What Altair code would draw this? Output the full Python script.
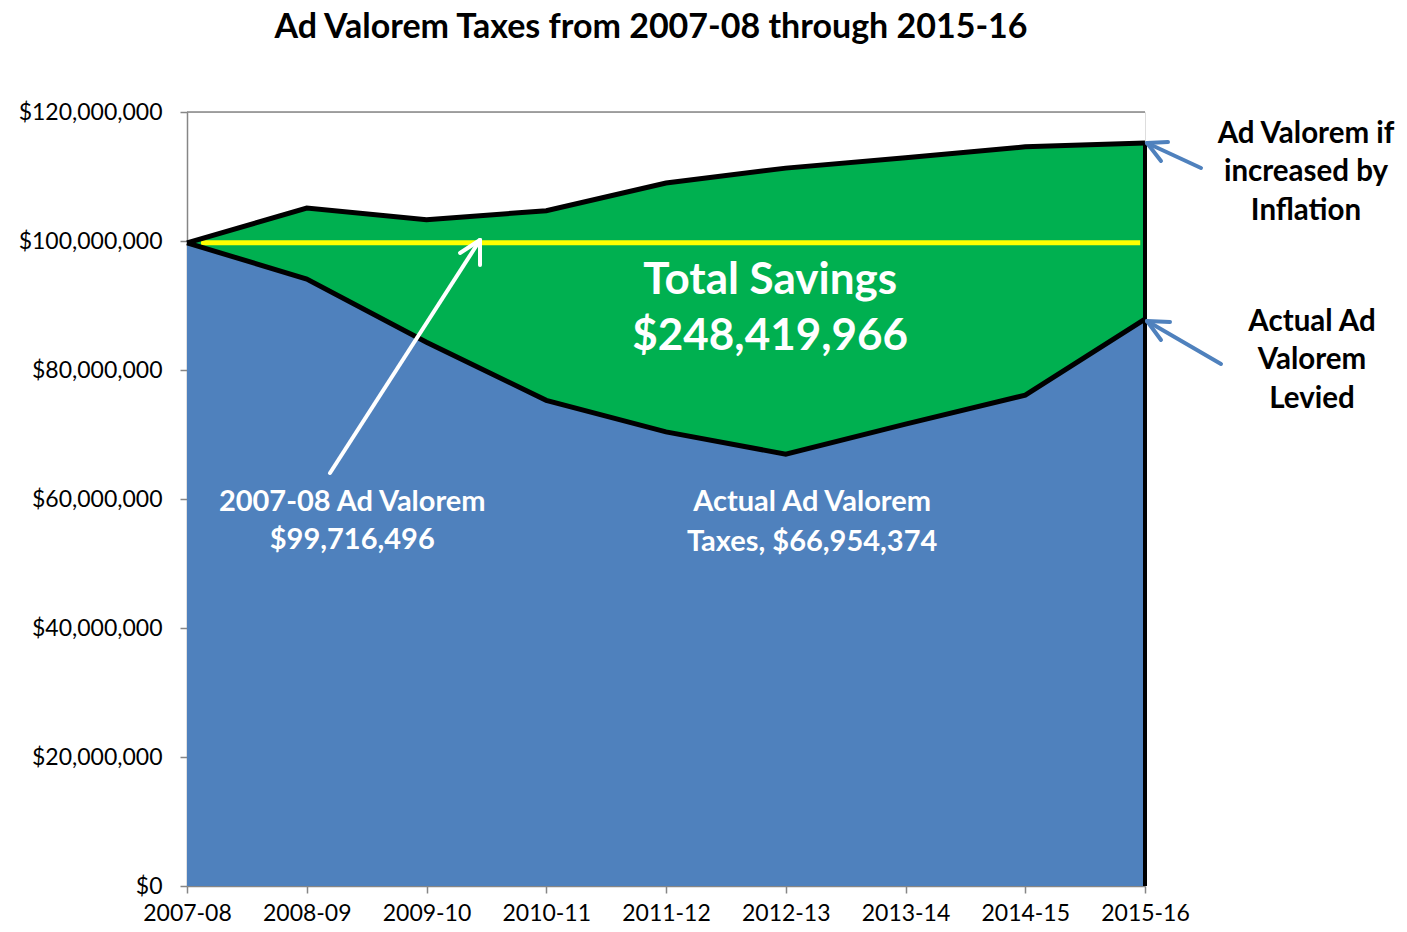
import json
import altair as alt
import pandas as pd

years = ["2007-08", "2008-09", "2009-10", "2010-11", "2011-12",
         "2012-13", "2013-14", "2014-15", "2015-16"]
inflation = [99716496, 105100000, 103300000, 104700000, 109000000,
             111300000, 112900000, 114600000, 115200000]
actual = [99716496, 94100000, 84300000, 75300000, 70400000,
          66954374, 71600000, 76100000, 87900000]
baseline_value = 99716496

FONT = "Lato"
BLUE = "#4F81BD"
GREEN = "#00B050"
YELLOW = "#FFFF00"
AXIS_GRAY = "#868686"

df = pd.DataFrame({"i": list(range(len(years))), "year": years,
                   "inflation": inflation, "actual": actual})

label_expr = json.dumps(years) + "[datum.value]"

x_enc = alt.X("i:Q", scale=alt.Scale(domain=[0, 8], nice=False, zero=False),
              axis=alt.Axis(values=list(range(9)), labelExpr=label_expr, title=None,
                            grid=False, domainColor=AXIS_GRAY, tickColor=AXIS_GRAY,
                            domainWidth=1.5, tickWidth=1.5, tickSize=7,
                            labelFont=FONT, labelFontSize=23, labelColor="black",
                            labelPadding=9, labelFlush=False))
y_scale = alt.Scale(domain=[0, 120000000], nice=False)
y_axis = alt.Axis(values=[0, 20000000, 40000000, 60000000, 80000000, 100000000, 120000000],
                  format="$,.0f", title=None, grid=False,
                  domainColor=AXIS_GRAY, tickColor=AXIS_GRAY, domainWidth=1.5,
                  tickWidth=1.5, tickSize=7, labelFont=FONT, labelFontSize=23,
                  labelColor="black", labelPadding=18)

base = alt.Chart(df)

green = base.mark_area(color=GREEN, opacity=1).encode(
    x=x_enc, y=alt.Y("inflation:Q", scale=y_scale, axis=y_axis))
blue = base.mark_area(color=BLUE, opacity=1).encode(
    x="i:Q", y=alt.Y("actual:Q", scale=y_scale))

top_rule = alt.Chart(pd.DataFrame({"a": [0], "b": [8], "v": [120000000]})).mark_rule(
    color=AXIS_GRAY, strokeWidth=1.5).encode(x="a:Q", x2="b:Q", y="v:Q")

yellow = alt.Chart(pd.DataFrame({"a": [0.117], "b": [7.96], "v": [baseline_value]})).mark_rule(
    color=YELLOW, strokeWidth=5).encode(x="a:Q", x2="b:Q", y="v:Q")

line_inf = base.mark_line(color="black", strokeWidth=5, strokeJoin="miter").encode(
    x="i:Q", y="inflation:Q")
line_act = base.mark_line(color="black", strokeWidth=5, strokeJoin="miter").encode(
    x="i:Q", y="actual:Q")
right_edge = alt.Chart(pd.DataFrame({"a": [8], "lo": [0], "hi": [inflation[-1]]})).mark_rule(
    color="black", strokeWidth=4).encode(x="a:Q", y="lo:Q", y2="hi:Q")

# annotations inside the plot (data coordinates)
savings = pd.DataFrame({"x": [4.87, 4.87], "y": [93800000, 85100000],
                        "t": ["Total Savings", "$248,419,966"]})
savings_text = alt.Chart(savings).mark_text(
    font=FONT, fontSize=44, fontWeight="bold", color="white", align="center",
    baseline="middle").encode(x="x:Q", y="y:Q", text="t:N")

inner = pd.DataFrame({"x": [1.38, 1.38, 5.22, 5.22],
                      "y": [59500000, 53700000, 59500000, 53300000],
                      "t": ["2007-08 Ad Valorem", "$99,716,496",
                            "Actual Ad Valorem", "Taxes, $66,954,374"]})
inner_text = alt.Chart(inner).mark_text(
    font=FONT, fontSize=29, fontWeight="bold", color="white", align="center",
    baseline="middle").encode(x="x:Q", y="y:Q", text="t:N")

# annotations outside the plot (pixel positions relative to plot area)
outer = pd.DataFrame({"px": [1119, 1119, 1119, 1125, 1125, 1125],
                      "py": [22, 60, 99, 210, 248, 287],
                      "t": ["Ad Valorem if", "increased by", "Inflation",
                            "Actual Ad", "Valorem", "Levied"]})
outer_text = alt.Chart(outer).mark_text(
    font=FONT, fontSize=29.5, fontWeight="bold", color="black", align="center",
    baseline="middle").encode(x=alt.X("px:Q", scale=None), y=alt.Y("py:Q", scale=None),
                              text="t:N")

title = alt.Chart(pd.DataFrame({"t": ["Ad Valorem Taxes from 2007-08 through 2015-16"]})).mark_text(
    font=FONT, fontSize=34, fontWeight="bold", color="black", align="center",
    baseline="middle").encode(x=alt.value(464), y=alt.value(-84), text="t:N")

white_arrow = pd.DataFrame({"x": [143, 293, 293], "y": [361, 128, 128],
                            "x2": [293, 273, 293], "y2": [128, 141, 153]})
white_arrow_mark = alt.Chart(white_arrow).mark_rule(
    color="white", strokeWidth=4, strokeCap="round").encode(
    x=alt.X("x:Q", scale=None), y=alt.Y("y:Q", scale=None),
    x2="x2:Q", y2="y2:Q")

blue_arrows = pd.DataFrame({"x": [1014, 960, 960, 1034, 960, 960],
                            "y": [56, 31, 31, 252, 209, 209],
                            "x2": [960, 981, 974, 960, 983, 974],
                            "y2": [31, 30, 49, 209, 210, 228]})
blue_arrow_mark = alt.Chart(blue_arrows).mark_rule(
    color=BLUE, strokeWidth=4, strokeCap="round").encode(
    x=alt.X("x:Q", scale=None), y=alt.Y("y:Q", scale=None),
    x2="x2:Q", y2="y2:Q")

chart = alt.layer(
    green, blue, top_rule, yellow, line_inf, line_act, right_edge,
    savings_text, inner_text, outer_text, title, white_arrow_mark, blue_arrow_mark
).properties(
    width=958, height=774, autosize=alt.AutoSizeParams(type="none"),
    padding={"left": 179, "top": 104, "right": 253, "bottom": 38}
).configure_view(stroke=None).configure(background="white")

chart.save("out.html", embed_options={"renderer": "svg", "actions": False})
